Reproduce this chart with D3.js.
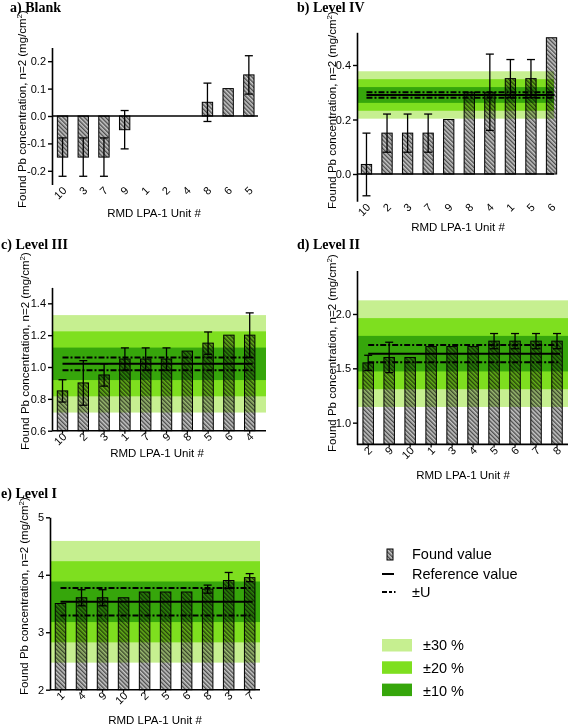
<!DOCTYPE html>
<html><head><meta charset="utf-8">
<script src="https://cdn.jsdelivr.net/npm/d3@7"></script>
<style>body{margin:0;background:#fff} svg{display:block}</style>
</head><body><svg id="c" width="568" height="727"></svg>
<script>
// ---------- DATA ----------
const catsA = ["10","3","7","9","1","2","4","8","6","5"];
const valsA = [-0.15,-0.15,-0.15,-0.05,0,0,0,0.05,0.1,0.15];
const errA  = [0.07,0.07,0.07,0.07,0,0,0,0.07,0,0.07];
const ticksA = [-0.2,-0.1,0,0.1,0.2];

const catsB = ["10","2","3","7","9","8","4","1","5","6"];
const valsB = [0.035,0.15,0.15,0.15,0.2,0.3,0.3,0.35,0.35,0.5];
const errB  = [0.115,0.07,0.07,0.07,0,0,0.14,0.07,0.07,0];
const refB = 0.29, uB = 0.01;
const ticksB = [0,0.2,0.4];

const catsC = ["10","2","3","1","7","9","8","5","6","4"];
const valsC = [0.85,0.9,0.95,1.05,1.05,1.05,1.1,1.15,1.2,1.2];
const errC  = [0.07,0.14,0.07,0.07,0.07,0.07,0,0.07,0,0.14];
const refC = 1.02, uC = 0.04;
const ticksC = [0.6,0.8,1.0,1.2,1.4];

const catsD = ["2","9","10","1","3","4","5","6","7","8"];
const valsD = [1.55,1.6,1.6,1.7,1.7,1.7,1.75,1.75,1.75,1.75];
const errD  = [0.07,0.14,0,0,0,0,0.07,0.07,0.07,0.07];
const refD = 1.635, uD = 0.08;
const ticksD = [1.0,1.5,2.0];

const catsE = ["1","4","9","10","2","5","6","8","3","7"];
const valsE = [3.5,3.6,3.6,3.6,3.7,3.7,3.7,3.75,3.9,3.95];
const errE  = [0,0.14,0.14,0,0,0,0,0.07,0.14,0.07];
const refE = 3.53, uE = 0.24;
const ticksE = [2,3,4,5];

const bandLevels = [0.3,0.2,0.1];
const bandLabels = ["±30 %","±20 %","±10 %"];
const bandColors = ["#c6ef90","#7edf1f","#36a60b"];
const legendItems = ["Found value","Reference value","±U"];
const xTitle = "RMD LPA-1 Unit #";
const yTitle = "Found Pb concentration, n=2 (mg/cm";

// ---------- SETUP ----------
const svg = d3.select("#c");
const loc = d3.formatLocale({decimal:".",thousands:",",grouping:[3],currency:["",""],minus:"-"});
const f1 = loc.format(".1f"), f0 = loc.format("d");

const defs = svg.append("defs");
const pat = defs.append("pattern").attr("id","hatch").attr("patternUnits","userSpaceOnUse")
  .attr("width",3).attr("height",3).attr("patternTransform","rotate(-45)");
pat.append("rect").attr("width",3).attr("height",3).attr("fill","#c8c8c8");
pat.append("rect").attr("width",1.4).attr("height",3).attr("fill","#4c4c4c");

const panels = [
 {title:"a) Blank", tx:10, ty:12, cats:catsA, vals:valsA, errs:errA, ticks:ticksA, fmt:f1, ref:null,
  dom:[-0.25,0.25], rng:[184.5,47.5], ax:52, xr:[52.2,259.2], xEnd:258, base0:true, ylab:[26,109], xlab:[154,217]},
 {title:"b) Level IV", tx:297, ty:12, cats:catsB, vals:valsB, errs:errB, ticks:ticksB, fmt:f1, ref:refB, u:uB,
  dom:[-0.1,0.52], rng:[201.25,32.3], ax:357, xr:[356.2,561.8], xEnd:554, base0:true, ylab:[336,110], xlab:[458,231]},
 {title:"c) Level III", tx:1, ty:249, cats:catsC, vals:valsC, errs:errC, ticks:ticksC, fmt:f1, ref:refC, u:uC,
  dom:[0.6,1.5], rng:[430.7,287.4], ax:52, xr:[52.1,260.1], xEnd:266, base0:false, ylab:[29,351], xlab:[157,457]},
 {title:"d) Level II", tx:297, ty:249, cats:catsD, vals:valsD, errs:errD, ticks:ticksD, fmt:f1, ref:refD, u:uD,
  dom:[0.8,2.4], rng:[444.4,270.5], ax:357, xr:[357.7,567.5], xEnd:568, base0:false, ylab:[336,353], xlab:[463,479]},
 {title:"e) Level I", tx:1, ty:498, cats:catsE, vals:valsE, errs:errE, ticks:ticksE, fmt:f0, ref:refE, u:uE,
  dom:[2,5], rng:[689.7,517.3], ax:50, xr:[50,260.2], xEnd:260, base0:false, ylab:[28,596], xlab:[155,724]}
];

panels.forEach(p => {
  const g = svg.append("g");
  const y = d3.scaleLinear().domain(p.dom).range(p.rng);
  const x = d3.scaleBand().domain(p.cats).range(p.xr).paddingInner(0.5).paddingOuter(0.25);
  const baseV = p.base0 ? 0 : p.dom[0];
  const data = p.cats.map((c,i)=>({c, v:p.vals[i], e:p.errs[i]}));

  // bars
  g.selectAll("rect.bar").data(data).join("rect").attr("class","bar")
    .attr("x", d=>x(d.c)).attr("width", x.bandwidth())
    .attr("y", d=>Math.min(y(d.v), y(baseV))).attr("height", d=>Math.abs(y(d.v)-y(baseV)))
    .attr("fill","url(#hatch)").attr("stroke","#000").attr("stroke-width",1);

  // bands
  if (p.ref !== null) {
    const bg = g.append("g").style("mix-blend-mode","multiply");
    bandLevels.forEach((lv,i)=>{
      bg.append("rect").attr("x",p.ax).attr("width",p.xEnd-p.ax)
        .attr("y", y(p.ref*(1+lv))).attr("height", y(p.ref*(1-lv))-y(p.ref*(1+lv)))
        .attr("fill", bandColors[i]);
    });
  }

  // error bars
  const eb = g.selectAll("g.err").data(data.filter(d=>d.e>0)).join("g").attr("class","err")
    .attr("stroke","#000").attr("stroke-width",1.3);
  eb.append("line").attr("x1",d=>x(d.c)+x.bandwidth()/2).attr("x2",d=>x(d.c)+x.bandwidth()/2)
    .attr("y1",d=>y(d.v-d.e)).attr("y2",d=>y(d.v+d.e));
  [-1,1].forEach(s=>{
    eb.append("line").attr("x1",d=>x(d.c)+x.bandwidth()/2-4).attr("x2",d=>x(d.c)+x.bandwidth()/2+4)
      .attr("y1",d=>y(d.v+s*d.e)).attr("y2",d=>y(d.v+s*d.e));
  });

  // ref lines
  if (p.ref !== null) {
    const xa = x(p.cats[0])+x.bandwidth()/2, xb = x(p.cats[p.cats.length-1])+x.bandwidth()/2+3;
    g.append("line").attr("x1",xa).attr("x2",xb).attr("y1",y(p.ref)).attr("y2",y(p.ref))
      .attr("stroke","#000").attr("stroke-width",2);
    [-1,1].forEach(s=>{
      g.append("line").attr("x1",xa).attr("x2",xb).attr("y1",y(p.ref+s*p.u)).attr("y2",y(p.ref+s*p.u))
        .attr("stroke","#000").attr("stroke-width",2).attr("stroke-dasharray","6,2,2,2");
    });
  }

  // y axis
  const ya = g.append("g").attr("transform",`translate(${p.ax},0)`)
    .call(d3.axisLeft(y).tickValues(p.ticks).tickFormat(p.fmt).tickSize(4).tickSizeOuter(0).tickPadding(2));
  ya.select(".domain").attr("stroke-width",1.6);
  ya.selectAll(".tick line").attr("stroke-width",1.4);
  ya.selectAll("text").attr("font-family","Liberation Sans, Arial, sans-serif").attr("font-size",11).attr("fill","#000");

  // x axis line
  const yb = y(baseV);
  g.append("line").attr("x1",p.ax).attr("x2",p.xEnd).attr("y1",yb).attr("y2",yb)
    .attr("stroke","#000").attr("stroke-width",1.6);
  const bottom = p.rng[0];
  if (!p.base0) {
    g.selectAll("line.xt").data(p.cats).join("line").attr("class","xt")
      .attr("x1",c=>x(c)+x.bandwidth()/2).attr("x2",c=>x(c)+x.bandwidth()/2)
      .attr("y1",bottom).attr("y2",bottom+3).attr("stroke","#000").attr("stroke-width",1.2);
  }
  g.selectAll("text.xl").data(p.cats).join("text").attr("class","xl")
    .attr("transform",c=>`translate(${x(c)+x.bandwidth()/2+2},${bottom+4}) rotate(-45)`)
    .attr("text-anchor","end").attr("dy","0.35em")
    .attr("font-family","Liberation Sans, Arial, sans-serif").attr("font-size",11).text(c=>c);

  // titles
  g.append("text").attr("x",p.tx).attr("y",p.ty).attr("font-family","Liberation Serif, serif")
    .attr("font-weight","bold").attr("font-size",14).text(p.title);
  g.append("text").attr("x",p.xlab[0]).attr("y",p.xlab[1]).attr("text-anchor","middle")
    .attr("font-family","Liberation Sans, Arial, sans-serif").attr("font-size",11.5).text(xTitle);
  const yl = g.append("text").attr("transform",`translate(${p.ylab[0]},${p.ylab[1]}) rotate(-90)`)
    .attr("text-anchor","middle").attr("font-family","Liberation Sans, Arial, sans-serif").attr("font-size",11.5);
  yl.append("tspan").text(yTitle);
  yl.append("tspan").attr("font-size",8).attr("dy",-4).text("2");
  yl.append("tspan").attr("dy",4).text(")");
});

// ---------- LEGEND ----------
const lg = svg.append("g").attr("font-family","Liberation Sans, Arial, sans-serif").attr("font-size",14.5);
lg.append("rect").attr("x",387).attr("y",549).attr("width",6).attr("height",11)
  .attr("fill","url(#hatch)").attr("stroke","#000").attr("stroke-width",1);
lg.append("line").attr("x1",382).attr("x2",394).attr("y1",574).attr("y2",574).attr("stroke","#000").attr("stroke-width",2);
lg.append("line").attr("x1",382).attr("x2",396).attr("y1",592).attr("y2",592).attr("stroke","#000")
  .attr("stroke-width",2).attr("stroke-dasharray","5,2,3,2,1.5");
lg.selectAll("text.li").data(legendItems).join("text").attr("class","li")
  .attr("x",412).attr("y",(d,i)=>[559,579,597][i]).text(d=>d);
lg.selectAll("rect.bl").data(bandLabels).join("rect").attr("class","bl")
  .attr("x",382).attr("width",30).attr("y",(d,i)=>639+i*22.3).attr("height",12.5)
  .attr("fill",(d,i)=>bandColors[i]);
lg.selectAll("text.bt").data(bandLabels).join("text").attr("class","bt")
  .attr("x",423).attr("y",(d,i)=>650+i*23.2).text(d=>d);
</script></body></html>
